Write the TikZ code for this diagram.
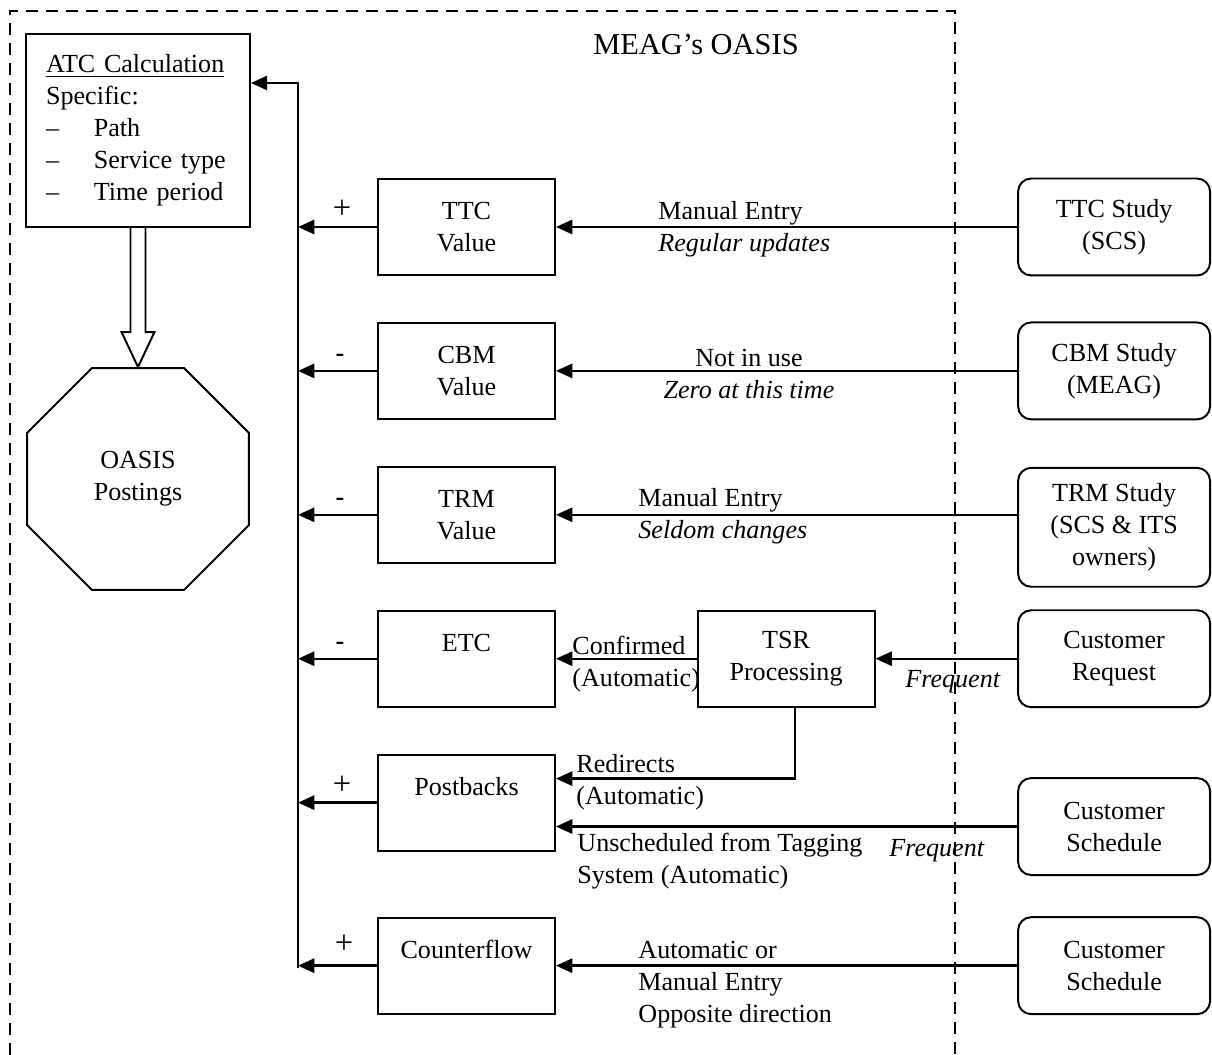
\documentclass[tikz,border=0pt]{standalone}
\usepackage{fontspec}
\setmainfont{Liberation Serif}
\usetikzlibrary{arrows.meta,positioning,calc,shapes.geometric}

\begin{document}
\begin{tikzpicture}[x=0.46pt,y=-0.46pt,>={Triangle[length=7.5pt,width=6.5pt]},
  font=\fontsize{12}{14.7}\selectfont, node distance=66.2pt]
  \useasboundingbox (0,0) rectangle (1212,1055);
  \tikzset{
    calcBox/.style={rectangle,draw,line width=0.9pt,minimum width=103pt,minimum height=88.8pt,
      text width=84.6pt,inner xsep=0pt,align=left},
    postings/.style={regular polygon,regular polygon sides=8,draw,line width=0.9pt,
      minimum size=110.5pt,inner sep=0pt,align=center},
    valueBox/.style={rectangle,draw,line width=0.9pt,minimum width=81.4pt,minimum height=44.2pt,align=center},
    studyBox/.style={rectangle,rounded corners=6pt,draw,line width=0.9pt,minimum width=88.3pt,
      minimum height=44.6pt,align=center},
    % edge styles
    post/.style={->,line width=1.1pt},
    hollow/.style={line width=0.9pt},
    frame/.style={dash pattern=on 5.5pt off 3.7pt,line width=0.7pt},
    % label styles
    flowText/.style={align=left,inner sep=0pt,anchor=west},
    plusSign/.style={inner sep=0pt,font=\fontsize{15}{16}\selectfont},
    minusSign/.style={inner sep=0pt,font=\fontsize{12}{14}\selectfont\bfseries}
  }

  % OASIS frame
  \draw[frame] (10,1055) -- (10,11) -- (955,11) -- (955,1055);
  \node (title) at (696,45) {\fontsize{14}{16}\selectfont MEAG’s OASIS};

  % ATC calculation and postings
  \node[calcBox] (atc) at (138,130.5) {\underline{\mbox{ATC Calculation}}\\Specific:\\
    \makebox[22pt][l]{–}Path\\\makebox[22pt][l]{–}Service type\\\makebox[22pt][l]{–}Time period};
  \node[postings] (oct) at (138,479) {OASIS\\Postings};

  \draw[hollow] ($(atc.south)+(-7.5,0)$) -- ($(oct.north)+(-7.5,-35)$) -- ($(oct.north)+(-16.5,-35)$)
    -- (oct.north) -- ($(oct.north)+(16.5,-35)$) -- ($(oct.north)+(7.5,-35)$) -- ($(atc.south)+(7.5,0)$);

  % Values
  \node[valueBox] (ttc) at (466.5,227) {TTC\\Value};
  \node[valueBox] (cbm) [below of=ttc] {CBM\\Value};
  \node[valueBox] (trm) [below of=cbm] {TRM\\Value};
  \node[valueBox] (etc) [below of=trm] {ETC\\\mbox{}};
  \node[valueBox] (postb) [below of=etc] {Postbacks\\\mbox{}};
  \node[valueBox] (cflow) [below of=postb, node distance=75pt] {Counterflow\\\mbox{}};
  \node[valueBox] (tsr) [right of=etc, node distance=147pt] {TSR\\Processing};

  % Studies and customers
  \node[studyBox] (ttcStudy) [right of=ttc, node distance=297.9pt] {TTC Study\\(SCS)};
  \node[studyBox] (cbmStudy) [right of=cbm, node distance=297.9pt] {CBM Study\\(MEAG)};
  \node[studyBox, minimum height=54.7pt, yshift=-5.75pt] (trmStudy) [right of=trm, node distance=297.9pt]
    {TRM Study\\(SCS \& ITS\\owners)};
  \node[studyBox] (custReq) [right of=etc, node distance=297.9pt] {Customer\\Request};
  \node[studyBox, yshift=-11pt] (custSched) [right of=postb, node distance=297.9pt] {Customer\\Schedule};
  \node[studyBox] (custSchedB) [right of=cflow, node distance=297.9pt] {Customer\\Schedule};

  % Bus
  \coordinate (busTop) at (298,83);
  \coordinate (busBot) at (298,968);
  \draw[post] (busBot) -- (busTop) -- (busTop -| atc.east);
  \foreach \v in {ttc,cbm,trm,etc,postb,cflow}
    \draw[post] (\v.west) -- (\v.west -| busTop);

  \node[plusSign] (pTTC) at (342,209) {+};
  \node[minusSign] (mCBM) at (340,358) {-};
  \node[minusSign] (mTRM) at (340,502) {-};
  \node[minusSign] (mETC) at (340,646) {-};
  \node[plusSign] (pPost) at (342,785) {+};
  \node[plusSign] (pCflow) at (344,944) {+};

  % Inputs
  \draw[post] (ttcStudy) -- (ttc);
  \draw[post] (cbmStudy) -- (cbm);
  \draw[post] (trmStudy.west |- trm.east) -- (trm.east);
  \draw[post] (custReq) -- (tsr);
  \draw[post] (tsr) -- (etc);
  \draw[post] ($(tsr.south)+(9,0)$) |- ($(postb.east)+(0,-24)$);
  \draw[post] (custSched) -- (custSched -| postb.east);
  \draw[post] (custSchedB) -- (cflow);

  \node[flowText] (ttcNote) at (658,229) {Manual Entry\\\textit{Regular updates}};
  \node[flowText, anchor=center, align=center] (cbmNote) at (749,374) {Not in use\\\textit{Zero at this time}};
  \node[flowText] (trmNote) at (638,516) {Manual Entry\\\textit{Seldom changes}};
  \node[flowText] (confNote) at (572,664) {Confirmed\\(Automatic)};
  \node[flowText] (reqFreq) at (905,682) {\textit{Frequent}};
  \node[flowText] (redirNote) at (576,782) {Redirects\\(Automatic)};
  \node[flowText] (untagNote) at (577,861) {Unscheduled from Tagging\\System (Automatic)};
  \node[flowText] (schedFreq) at (889,851) {\textit{Frequent}};
  \node[flowText] (cflowNote) at (638,985) {Automatic or\\Manual Entry\\Opposite direction};

\end{tikzpicture}
\end{document}
